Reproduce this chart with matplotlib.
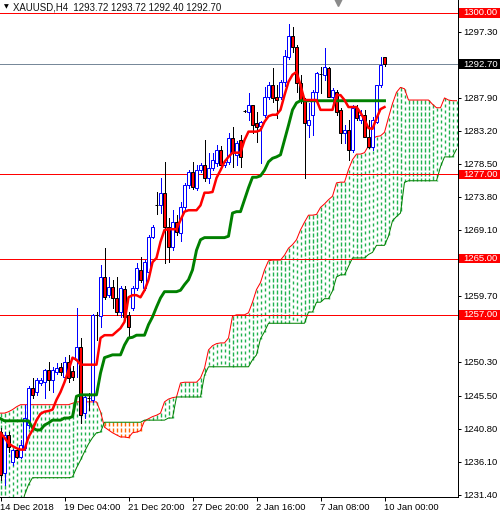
import matplotlib
matplotlib.use("Agg")
import matplotlib.pyplot as plt
import numpy as np
from matplotlib.collections import LineCollection
from matplotlib.patches import Rectangle

plt.rcParams["font.family"] = ["Liberation Sans", "DejaVu Sans"]

# XAUUSD H4 candles, bar 0 = 14 Dec 2018, last bar = 10 Jan 00:00
opens = [1240.3, 1234.5, 1239.9, 1236.0, 1237.8, 1236.8, 1238.0, 1241.3, 1246.6, 1246.0,
         1247.3, 1247.4, 1249.1, 1247.7, 1248.9, 1249.6, 1248.2, 1250.3, 1249.0, 1250.6,
         1252.4, 1243.0, 1245.2, 1244.9, 1257.0, 1256.8, 1262.4, 1259.8, 1261.0, 1259.4,
         1257.4, 1260.7, 1257.0, 1258.0, 1260.8, 1263.4, 1260.8, 1263.1, 1268.1, 1272.7,
         1272.7, 1274.4, 1269.5, 1266.7, 1270.2, 1268.7, 1272.4, 1275.5, 1277.4, 1275.1,
         1277.6, 1278.4, 1276.5, 1277.9, 1278.6, 1280.5, 1278.4, 1278.8, 1282.2, 1279.8,
         1281.9, 1286.0, 1285.9, 1286.9, 1284.3, 1283.9, 1285.5, 1288.0, 1289.7, 1288.0,
         1288.0, 1290.2, 1293.7, 1296.7, 1295.2, 1290.0, 1287.5, 1284.0, 1285.5, 1288.7,
         1291.3, 1291.2, 1292.2, 1288.0, 1288.7, 1286.2, 1282.9, 1283.3, 1280.5, 1286.5,
         1284.8, 1285.5, 1282.3, 1280.9, 1284.5, 1289.7, 1293.72]
highs = [1240.9, 1240.3, 1240.3, 1237.9, 1238.0, 1239.2, 1244.2, 1246.9, 1248.0, 1248.0,
         1248.0, 1249.3, 1250.3, 1249.6, 1250.1, 1250.1, 1251.0, 1251.3, 1249.7, 1258.0,
         1253.7, 1245.6, 1245.9, 1257.1, 1257.4, 1264.1, 1266.5, 1262.4, 1262.0, 1262.4,
         1261.1, 1261.1, 1257.4, 1261.1, 1264.4, 1265.2, 1264.8, 1268.4, 1269.8, 1274.5,
         1276.5, 1278.8, 1270.8, 1271.9, 1271.2, 1273.1, 1275.8, 1277.6, 1278.8, 1278.4,
         1278.6, 1281.9, 1280.1, 1280.1, 1281.2, 1281.1, 1279.1, 1282.9, 1283.8, 1281.8,
         1282.6, 1286.2, 1288.6, 1286.9, 1285.9, 1284.6, 1289.5, 1290.2, 1292.2, 1289.7,
         1290.5, 1294.7, 1298.4, 1298.0, 1295.4, 1291.2, 1287.9, 1287.2, 1289.0, 1291.6,
         1292.3, 1295.0, 1292.3, 1289.3, 1289.0, 1286.5, 1284.0, 1284.8, 1286.9, 1286.9,
         1286.2, 1286.2, 1284.8, 1285.2, 1289.7, 1293.7, 1293.72]
lows = [1233.5, 1232.8, 1237.5, 1235.6, 1236.6, 1236.6, 1237.8, 1240.9, 1245.2, 1245.6,
        1247.0, 1245.2, 1246.3, 1246.0, 1248.6, 1248.4, 1247.9, 1247.4, 1247.7, 1248.2,
        1241.6, 1242.3, 1243.5, 1244.6, 1253.4, 1255.3, 1259.3, 1259.5, 1258.0, 1257.0,
        1256.7, 1256.3, 1253.8, 1257.7, 1260.5, 1261.7, 1260.5, 1262.8, 1267.9, 1271.4,
        1271.5, 1264.4, 1264.5, 1266.2, 1268.4, 1267.5, 1271.9, 1275.1, 1274.9, 1274.8,
        1277.4, 1276.1, 1275.8, 1277.6, 1278.2, 1278.1, 1278.1, 1278.5, 1278.1, 1278.4,
        1278.1, 1285.9, 1284.8, 1282.9, 1281.6, 1278.6, 1285.2, 1287.8, 1287.3, 1285.0,
        1287.8, 1289.6, 1293.5, 1294.4, 1288.7, 1287.2, 1276.5, 1282.3, 1282.6, 1287.6,
        1288.6, 1290.5, 1288.0, 1286.6, 1285.5, 1281.5, 1281.5, 1279.1, 1280.2, 1284.8,
        1284.3, 1282.3, 1280.8, 1280.5, 1284.3, 1289.5, 1292.40]
closes = [1234.2, 1239.9, 1238.2, 1237.8, 1236.8, 1238.5, 1242.3, 1246.6, 1245.6, 1247.7,
          1247.7, 1249.1, 1247.7, 1249.1, 1249.4, 1248.9, 1250.3, 1248.0, 1248.2, 1252.4,
          1242.7, 1245.3, 1245.2, 1257.0, 1257.0, 1262.4, 1259.5, 1261.0, 1259.4, 1257.4,
          1260.8, 1256.7, 1255.3, 1260.8, 1263.7, 1262.0, 1264.5, 1268.1, 1269.5, 1272.7,
          1274.4, 1269.5, 1266.7, 1270.2, 1268.8, 1272.4, 1275.5, 1277.4, 1275.2, 1277.6,
          1278.4, 1276.5, 1277.9, 1279.1, 1280.5, 1278.4, 1278.8, 1282.2, 1280.1, 1281.5,
          1279.5, 1286.0, 1286.9, 1284.0, 1283.8, 1284.5, 1288.0, 1289.7, 1287.9, 1287.6,
          1290.2, 1293.9, 1296.7, 1295.2, 1290.0, 1287.6, 1284.3, 1284.8, 1288.7, 1291.5,
          1291.3, 1292.3, 1288.0, 1289.0, 1285.9, 1282.9, 1283.3, 1280.5, 1286.5, 1285.0,
          1285.5, 1282.3, 1280.9, 1284.8, 1289.7, 1292.6, 1292.70]

# Ichimoku lines
tenkan = [1240.2, 1239.5, 1238.7, 1238.3, 1238.0, 1237.8, 1237.8, 1239.6, 1240.6, 1242.0,
          1242.9, 1243.2, 1243.3, 1243.5, 1244.9, 1246.0, 1247.4, 1249.1, 1250.9, 1250.6,
          1249.9, 1249.9, 1249.9, 1249.9, 1249.9, 1253.7, 1254.1, 1254.1, 1254.1, 1254.6,
          1255.1, 1256.0, 1259.5, 1259.8, 1259.8, 1259.5, 1260.5, 1262.0, 1264.5, 1265.1,
          1267.4, 1269.1, 1269.2, 1269.2, 1269.2, 1270.5, 1271.7, 1271.9, 1271.9, 1271.9,
          1272.6, 1274.4, 1274.4, 1274.5, 1276.5, 1277.6, 1278.8, 1279.5, 1280.1, 1280.1,
          1280.1, 1281.9, 1283.1, 1283.1, 1283.1, 1283.3, 1284.5, 1285.3, 1285.5, 1285.5,
          1286.2, 1288.3, 1290.2, 1291.2, 1291.6, 1289.7, 1287.6, 1287.6, 1287.6, 1287.6,
          1286.2, 1286.2, 1286.2, 1286.2, 1288.3, 1288.3, 1287.6, 1286.6, 1286.6, 1286.6,
          1285.8, 1284.8, 1283.6, 1283.5, 1285.0, 1286.3, 1286.6]
kijun = [1242.2, 1241.9, 1241.9, 1241.9, 1241.9, 1241.9, 1241.9, 1241.9, 1240.9, 1240.6,
         1240.6, 1241.3, 1241.6, 1242.0, 1242.0, 1242.0, 1242.3, 1242.3, 1242.5, 1245.4,
         1245.6, 1245.6, 1245.6, 1245.6, 1245.6, 1248.7, 1250.9, 1251.1, 1251.3, 1251.3,
         1251.3, 1252.7, 1253.7, 1253.8, 1254.1, 1254.1, 1254.1, 1255.6, 1256.7, 1258.1,
         1259.4, 1260.3, 1260.3, 1260.3, 1260.3, 1260.5, 1261.3, 1262.0, 1263.4, 1266.2,
         1267.7, 1268.0, 1268.0, 1268.0, 1268.0, 1268.0, 1268.0, 1268.2, 1271.5, 1271.7,
         1271.7, 1273.4, 1275.1, 1276.6, 1276.6, 1276.8, 1277.6, 1278.8, 1279.3, 1279.5,
         1279.8, 1281.9, 1284.0, 1286.2, 1287.2, 1287.5, 1287.5, 1287.5, 1287.5, 1287.5,
         1287.5, 1287.5, 1287.5, 1287.5, 1287.5, 1287.5, 1287.5, 1287.5, 1287.5, 1287.5,
         1287.5, 1287.5, 1287.5, 1287.5, 1287.5, 1287.5, 1287.5]
# cloud spans, already shifted 26 bars ahead
span_a = [1243.0, 1243.0, 1243.2, 1243.5, 1243.9, 1244.2, 1244.2, 1244.2, 1244.2, 1244.2,
          1244.2, 1244.2, 1244.2, 1244.2, 1244.2, 1244.2, 1244.2, 1244.2, 1244.4, 1244.6,
          1244.6, 1244.6, 1244.6, 1244.6, 1244.6, 1243.2, 1241.0, 1240.6, 1240.2, 1239.9,
          1239.6, 1239.6, 1239.5, 1240.2, 1240.3, 1240.5, 1241.9, 1242.2, 1242.5, 1242.7,
          1243.0, 1244.6, 1245.0, 1245.2, 1245.3, 1247.3, 1247.4, 1247.4, 1247.4, 1247.4,
          1248.0, 1249.4, 1252.0, 1252.6, 1252.9, 1253.0, 1253.0, 1253.7, 1256.8, 1257.0,
          1257.0, 1257.0, 1257.3, 1258.8, 1260.6, 1261.6, 1263.4, 1264.7, 1264.8, 1264.8,
          1264.8, 1265.5, 1266.5, 1267.0, 1267.7, 1269.1, 1270.2, 1271.2, 1271.2, 1271.3,
          1272.3, 1272.8, 1273.4, 1273.9, 1275.8, 1275.9, 1275.9, 1277.7, 1279.1, 1279.9,
          1279.9, 1280.1, 1281.1, 1282.1, 1282.4, 1282.5, 1283.0, 1285.1, 1287.1, 1288.7,
          1289.4, 1289.2, 1287.6, 1287.6, 1287.6, 1287.6, 1287.6, 1287.6, 1287.0, 1286.5,
          1286.5, 1287.9, 1287.6, 1287.5, 1287.5]
span_b = [1229.0, 1229.0, 1229.0, 1229.0, 1229.0, 1229.0, 1231.3, 1232.8, 1233.8, 1233.8,
          1233.8, 1233.8, 1233.8, 1233.8, 1233.8, 1233.8, 1233.8, 1233.8, 1233.9, 1235.2,
          1236.3, 1237.5, 1238.6, 1239.5, 1240.2, 1240.3, 1241.7, 1241.7, 1241.7, 1241.7,
          1241.7, 1241.7, 1241.7, 1241.7, 1241.7, 1241.7, 1242.0, 1242.0, 1242.0, 1242.0,
          1242.0, 1242.0, 1242.3, 1242.3, 1245.3, 1245.3, 1245.3, 1245.3, 1245.3, 1245.3,
          1245.3, 1248.4, 1249.6, 1249.6, 1249.6, 1249.6, 1249.6, 1249.6, 1249.6, 1249.6,
          1249.6, 1249.6, 1249.6, 1250.6, 1251.3, 1253.6, 1254.6, 1255.8, 1255.8, 1255.8,
          1255.8, 1255.8, 1255.8, 1255.8, 1255.8, 1255.8, 1255.8, 1257.4, 1257.4, 1258.8,
          1258.8, 1259.3, 1259.3, 1260.4, 1262.4, 1262.7, 1262.7, 1263.9, 1265.1, 1265.1,
          1265.1, 1265.1, 1265.6, 1265.9, 1266.9, 1266.9, 1266.9, 1268.2, 1270.4, 1271.0,
          1271.5, 1275.9, 1276.1, 1276.1, 1276.1, 1276.1, 1276.1, 1276.1, 1276.1, 1276.1,
          1278.1, 1279.5, 1279.5, 1279.5, 1280.6]

levels = [1300.00, 1277.00, 1265.00, 1257.00]
last_price = 1292.70
ytick_vals = [1297.30, 1287.90, 1283.20, 1278.50, 1273.80, 1269.10, 1259.70,
              1250.30, 1245.50, 1240.80, 1236.10, 1231.40]
xtick_bars = [0, 16, 32, 48, 64, 80, 96]
xtick_labels = ["14 Dec 2018", "19 Dec 04:00", "21 Dec 20:00", "27 Dec 20:00",
                "2 Jan 16:00", "7 Jan 08:00", "10 Jan 00:00"]
header = "XAUUSD,H4  1293.72 1293.72 1292.40 1292.70"

W, H = 500, 514
PPU = 7.02          # screen pixels per price unit
PX = 0.72           # one pixel in points
fig = plt.figure(figsize=(W / 100, H / 100), dpi=100)
ax = fig.add_axes([0, 17 / H, 458 / W, 497 / H])
ax.set_xlim(-0.125, 114.375)
ax.set_ylim(1231.05, 1301.85)


def hatch(ax, xs, y0, y1, color, dash=3.5 / PPU, gap=2.5 / PPU):
    # MT4-style cloud: a dotted vertical at every bar between the spans
    segs = []
    for xi, lo, hi in zip(xs, y0, y1):
        y = hi
        while y > lo:
            segs.append([(xi, y), (xi, max(y - dash, lo))])
            y -= dash + gap
    ax.add_collection(LineCollection(segs, colors=color, linewidths=1.0,
                                     antialiaseds=True, zorder=1))


a = np.array(span_a)
b = np.array(span_b)
xs = np.arange(len(a))
bull = a >= b
hatch(ax, xs[bull], b[bull], a[bull], "#1fb24f")
hatch(ax, xs[~bull], a[~bull], b[~bull], "#ff6a00")
ax.plot(xs, a, color="red", lw=PX, zorder=2)
ax.plot(xs, b, color="#008000", lw=PX, zorder=2)

# levels
for lv in levels:
    ax.axhline(lv, color="red", lw=PX, antialiased=False, zorder=2.5)
ax.axhline(last_price, color="#778899", lw=PX, antialiased=False, zorder=2.5)

# candles
o, h, l, c = map(np.array, (opens, highs, lows, closes))
x = np.arange(len(o))
up = c > o
ax.vlines(x, l, h, colors=np.where(up, "#0000ff", "black"), lw=PX,
          antialiased=False, zorder=3)
lo = np.minimum(o, c)
ht = np.abs(c - o)
ax.bar(x[up], ht[up], bottom=lo[up], width=0.55, facecolor="white",
       edgecolor="#0000ff", lw=PX, zorder=4)
ax.bar(x[~up], ht[~up], bottom=lo[~up], width=0.55, facecolor="red",
       edgecolor="black", lw=PX, zorder=4)

# tenkan / kijun
ax.plot(x, kijun, color="#008000", lw=2.1, zorder=5)
ax.plot(x, tenkan, color="red", lw=1.8, zorder=6)

# axes look
for s in ("top", "left"):
    ax.spines[s].set_visible(False)
for s in ("right", "bottom"):
    ax.spines[s].set_linewidth(PX)
ax.yaxis.tick_right()
ax.set_yticks(ytick_vals)
ax.set_yticklabels([f"{v:.2f}" for v in ytick_vals])
ax.tick_params(axis="y", length=3 * PX, width=PX, pad=1.5, labelsize=6.8)
ax.set_xticks(xtick_bars)
ax.set_xticklabels(xtick_labels)
ax.tick_params(axis="x", length=4 * PX, width=PX, pad=1.5, labelsize=6.8)
for t in ax.get_xticklabels():
    t.set_ha("left")

# highlighted price boxes on the scale
ytr = ax.get_yaxis_transform()
box_h = 9.5 / PPU
for lv, col in [(lv, "red") for lv in levels] + [(last_price, "black")]:
    ax.add_patch(Rectangle((1 + 1 / 458, lv - box_h / 2), 42 / 458, box_h,
                           transform=ytr, facecolor=col, edgecolor="none",
                           clip_on=False, zorder=10))
    ax.text(1 + 5 / 458, lv, f"{lv:.2f}", transform=ytr, color="white",
            fontsize=6.8, va="center", ha="left", zorder=11, clip_on=False)

# header and shift marker
ax.text(6 / 458, 1 - 7 / 497, "\u25bc", transform=ax.transAxes, fontsize=4.5,
        family="DejaVu Sans", va="center", ha="center", color="black")
ax.text(13 / 458, 1 - 7 / 497, header, transform=ax.transAxes, fontsize=6.9,
        va="center", ha="left", color="#111111")
ax.plot([337.5 / 458], [1 - 1.5 / 497], marker="v", ms=6, color="#8a8a8a",
        transform=ax.transAxes, clip_on=False, zorder=12)

fig.savefig("out.png", dpi=100)
